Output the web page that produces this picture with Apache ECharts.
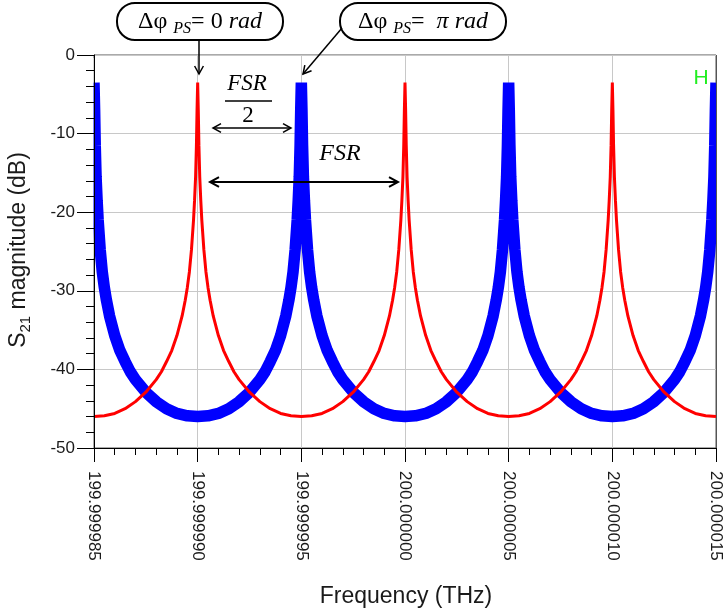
<!DOCTYPE html>
<html><head><meta charset="utf-8">
<script src="https://cdn.jsdelivr.net/npm/echarts@6/dist/echarts.min.js"></script>
<style>html,body{margin:0;padding:0;background:#fff}#c{width:725px;height:611px}</style>
</head><body><div id="c"></div>
<script>
// x axis works in MHz offset from 200 THz; labels show THz
const xTickValues = [-15, -10, -5, 0, 5, 10, 15];
const xTickLabels = ['199.999985','199.999990','199.999995','200.000000','200.000005','200.000010','200.000015'];
const yTickValues = [-50, -40, -30, -20, -10, 0];
const yTickLabels = ['-50','-40','-30','-20','-10','0'];
// one resonance profile (offset from peak in MHz, level in dB)
const profileOffsetMHz = [0, 0.03, 0.06, 0.1, 0.15, 0.2, 0.3, 0.4, 0.5, 0.6, 0.75, 1, 1.25, 1.5, 1.75, 2, 2.5, 3, 3.5, 4, 4.5, 5];
const profileDb        = [-3.5, -7, -11.5, -15.5, -18.5, -21, -24.8, -27.6, -29.6, -31.2, -33.2, -35.7, -37.6, -39.0, -40.3, -41.3, -42.9, -44.1, -45.0, -45.6, -45.9, -46.0];
// resonance positions (MHz offset)
const redPeaksMHz  = [-10, 0, 10];   // Δφ_PS = 0 rad
const bluePeaksMHz = [-15, -5, 5, 15]; // Δφ_PS = π rad

function buildSeries(peaks) {
  const pts = [];
  peaks.forEach(p => {
    for (let i = profileOffsetMHz.length - 1; i >= 0; i--) pts.push([+(p - profileOffsetMHz[i]).toFixed(4), profileDb[i]]);
    for (let i = 1; i < profileOffsetMHz.length; i++) pts.push([+(p + profileOffsetMHz[i]).toFixed(4), profileDb[i]]);
  });
  const inRange = pts.filter(d => d[0] >= -15 && d[0] <= 15).sort((a, b) => a[0] - b[0]);
  const out = [];
  inRange.forEach(d => { if (!out.length || out[out.length - 1][0] !== d[0]) out.push(d); });
  return out;
}

const chart = echarts.init(document.getElementById('c'));
const mathFont = '"Liberation Serif", "DejaVu Serif", serif';
const sansFont = '"Liberation Sans", Arial, sans-serif';
function arrowHead(x, y, dx, dy, size) {
  const len = Math.hypot(dx, dy); const ux = dx / len, uy = dy / len;
  const px = -uy, py = ux;
  return [[x - ux * size + px * size * 0.55, y - uy * size + py * size * 0.55], [x, y], [x - ux * size - px * size * 0.55, y - uy * size - py * size * 0.55]];
}
const lineStyle = (w) => ({ stroke: '#000', lineWidth: w, fill: null });
const mathRich = {
  n: { fontFamily: mathFont, fontSize: 24, lineHeight: 30, fill: '#000' },
  i: { fontFamily: mathFont, fontSize: 24, fontStyle: 'italic', lineHeight: 30, fill: '#000' },
  s: { fontFamily: mathFont, fontSize: 16, fontStyle: 'italic', lineHeight: 10, verticalAlign: 'bottom', fill: '#000' }
};
const yLabelFmt = v => { const i = yTickValues.indexOf(Math.round(v)); return i >= 0 ? yTickLabels[i] : ''; };

chart.setOption({
  animation: false,
  backgroundColor: '#fff',
  grid: { left: 94, right: 9, top: 55, bottom: 163, show: true, borderColor: '#555', borderWidth: 1, backgroundColor: 'transparent' },
  xAxis: {
    type: 'value', min: -15, max: 15, interval: 5,
    axisLine: { onZero: false, lineStyle: { color: '#000', width: 1 } },
    axisTick: { show: true, length: 14, lineStyle: { color: '#000' } },
    minorTick: { show: true, splitNumber: 5, length: 7, lineStyle: { color: '#000' } },
    splitLine: { show: true, lineStyle: { color: '#c8c8c8', width: 1 } },
    axisLabel: {
      rotate: -90, margin: 23, color: '#1a1a1a', fontSize: 17, fontFamily: sansFont,
      formatter: v => { const i = xTickValues.indexOf(Math.round(v)); return i >= 0 ? xTickLabels[i] : ''; }
    }
  },
  yAxis: [
    { // grid lines only
      type: 'value', min: -50, max: 0, interval: 10,
      axisLine: { show: false }, axisTick: { show: false }, axisLabel: { show: false },
      splitLine: { show: true, lineStyle: { color: '#c8c8c8', width: 1 } }
    },
    { // axis line, ticks and labels drawn on top
      type: 'value', min: -50, max: 0, interval: 10, position: 'left', z: 20,
      axisLine: { onZero: false, lineStyle: { color: '#000', width: 1 } },
      axisTick: { show: true, length: 17, lineStyle: { color: '#000' } },
      minorTick: { show: true, splitNumber: 5, length: 8, lineStyle: { color: '#000' } },
      splitLine: { show: false },
      axisLabel: { margin: 19, color: '#1a1a1a', fontSize: 17, fontFamily: sansFont, formatter: yLabelFmt }
    }
  ],
  series: [
    { name: 'π rad', type: 'line', data: buildSeries(bluePeaksMHz), showSymbol: false, symbol: 'none', clip: true,
      lineStyle: { color: '#0000ff', width: 11.5, join: 'bevel' }, z: 2 },
    { name: '0 rad', type: 'line', data: buildSeries(redPeaksMHz), showSymbol: false, symbol: 'none', clip: true,
      lineStyle: { color: '#ff0000', width: 3, join: 'bevel' }, z: 3 }
  ],
  graphic: [
    // trim the thick line exactly at the plot edges
    { type: 'rect', z: 8, shape: { x: 0, y: 58, width: 93.5, height: 200 }, style: { fill: '#fff' } },
    { type: 'rect', z: 8, shape: { x: 717, y: 56, width: 10, height: 200 }, style: { fill: '#fff' } },
    { type: 'line', z: 9, shape: { x1: 716.5, y1: 55, x2: 716.5, y2: 448 }, style: { stroke: '#555', lineWidth: 1 } },
    // boxes
    { type: 'rect', shape: { x: 117, y: 3, width: 166, height: 37, r: 18 }, style: { fill: '#fff', stroke: '#000', lineWidth: 2 }, z: 10 },
    { type: 'text', x: 200, y: 22, z: 11, style: { text: '{n|Δφ }{s|PS}{n|= 0 }{i|rad}', rich: mathRich, align: 'center', verticalAlign: 'middle' } },
    { type: 'rect', shape: { x: 340, y: 3, width: 166, height: 37, r: 18 }, style: { fill: '#fff', stroke: '#000', lineWidth: 2 }, z: 10 },
    { type: 'text', x: 423, y: 22, z: 11, style: { text: '{n|Δφ }{s|PS}{n|=  }{i|π rad}', rich: mathRich, align: 'center', verticalAlign: 'middle' } },
    // arrows from boxes
    { type: 'polyline', z: 10, shape: { points: [[199, 40], [199, 74]] }, style: lineStyle(1.5) },
    { type: 'polyline', z: 10, shape: { points: arrowHead(199, 74, 0, 1, 8) }, style: lineStyle(1.5) },
    { type: 'polyline', z: 10, shape: { points: [[342, 28], [303, 74]] }, style: lineStyle(1.5) },
    { type: 'polyline', z: 10, shape: { points: arrowHead(303, 74, -39, 46, 8) }, style: lineStyle(1.5) },
    // FSR/2
    { type: 'text', x: 247, y: 84, z: 11, style: { text: 'FSR', font: 'italic 23px ' + mathFont, fill: '#000', align: 'center', verticalAlign: 'middle' } },
    { type: 'line', z: 10, shape: { x1: 225, y1: 101, x2: 272, y2: 101 }, style: { stroke: '#000', lineWidth: 1.5 } },
    { type: 'text', x: 248, y: 116, z: 11, style: { text: '2', font: '23px ' + mathFont, fill: '#000', align: 'center', verticalAlign: 'middle' } },
    { type: 'polyline', z: 10, shape: { points: [[213, 128], [291, 128]] }, style: lineStyle(1.5) },
    { type: 'polyline', z: 10, shape: { points: arrowHead(213, 128, -1, 0, 8) }, style: lineStyle(1.5) },
    { type: 'polyline', z: 10, shape: { points: arrowHead(291, 128, 1, 0, 8) }, style: lineStyle(1.5) },
    // FSR
    { type: 'text', x: 340, y: 154, z: 11, style: { text: 'FSR', font: 'italic 24px ' + mathFont, fill: '#000', align: 'center', verticalAlign: 'middle' } },
    { type: 'polyline', z: 10, shape: { points: [[210, 182], [398, 182]] }, style: lineStyle(2) },
    { type: 'polyline', z: 10, shape: { points: arrowHead(210, 182, -1, 0, 9) }, style: lineStyle(2) },
    { type: 'polyline', z: 10, shape: { points: arrowHead(398, 182, 1, 0, 9) }, style: lineStyle(2) },
    // green H marker
    { type: 'text', x: 701, y: 78, z: 11, style: { text: 'H', font: '21px ' + sansFont, fill: '#22ee22', align: 'center', verticalAlign: 'middle' } },
    // axis names
    { type: 'text', x: 19, y: 250, rotation: Math.PI / 2, z: 11,
      style: { text: '{m|S}{sub|21}{m| magnitude (dB)}', align: 'center', verticalAlign: 'middle',
        rich: { m: { fontFamily: sansFont, fontSize: 23, lineHeight: 28, fill: '#1a1a1a' },
                sub: { fontFamily: sansFont, fontSize: 15, lineHeight: 12, verticalAlign: 'bottom', fill: '#1a1a1a' } } } },
    { type: 'text', x: 406, y: 597, z: 11, style: { text: 'Frequency (THz)', font: '23px ' + sansFont, fill: '#1a1a1a', align: 'center', verticalAlign: 'middle' } }
  ]
});
</script></body></html>
